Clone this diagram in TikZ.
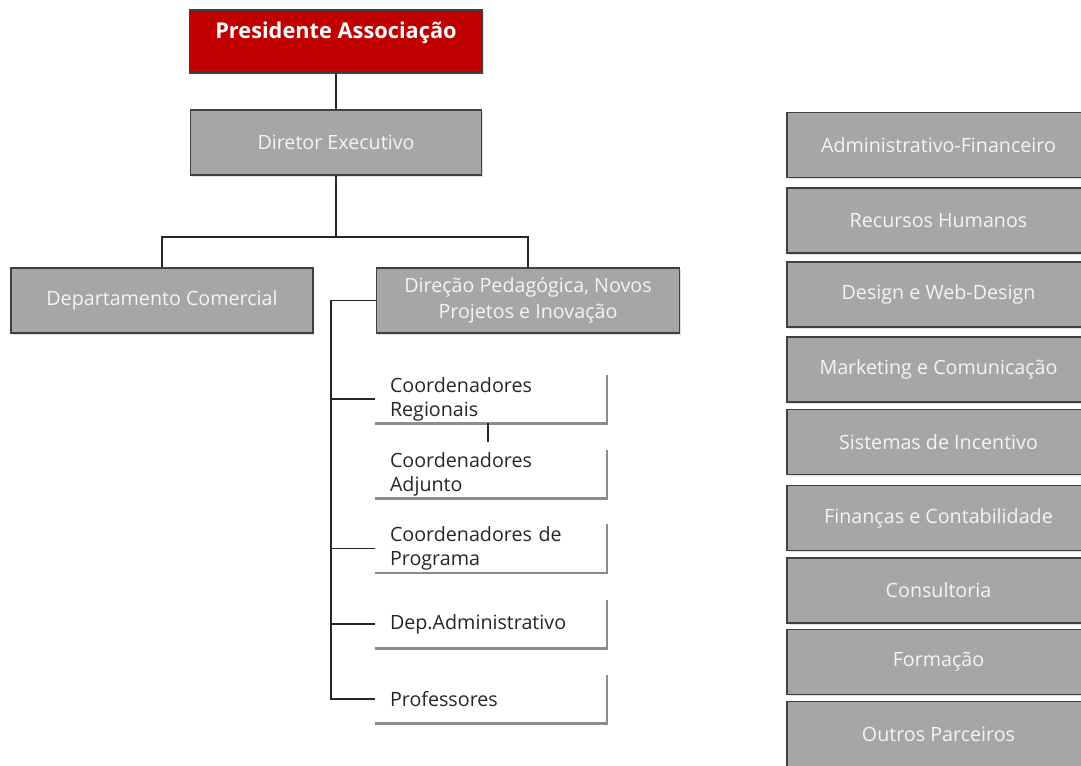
\documentclass[tikz,border=0pt]{standalone}
\usepackage{fontspec}
\setmainfont{Open Sans}
\usetikzlibrary{shadows}
\definecolor{boxgrey}{HTML}{A6A6A6}
\definecolor{boxline}{HTML}{404040}
\definecolor{headred}{HTML}{C00000}
\definecolor{boxtext}{HTML}{F4F4F4}
\definecolor{openline}{HTML}{8C8C8C}
\definecolor{darktext}{HTML}{262626}
\begin{document}
\begin{tikzpicture}[x=0.02cm,y=-0.02cm,
        unitbox/.style={draw=boxline,line width=1pt,fill=boxgrey,text=boxtext,align=center,
            minimum height=1.3cm,inner sep=0pt,font=\fontsize{11.2}{14.5}\selectfont,
            drop shadow={shadow xshift=0.03cm,shadow yshift=-0.03cm,opacity=0.25}},
        headbox/.style={unitbox,fill=headred,text=white,font=\bfseries\fontsize{12.4}{13}\selectfont},
        openbox/.style={text=darktext,align=left,text width=4.04cm,inner xsep=0.3cm,
            minimum height=0.96cm,inner ysep=0pt,font=\fontsize{11.2}{13.6}\selectfont},
        link/.style={line width=1.1pt,draw=black!85}]
    \clip (0,0) rectangle (1081,765);
    %% Top of the chart
    \node[headbox,minimum width=5.86cm,minimum height=1.26cm] (pres) at (336,41.5) {Presidente Associação\\\mbox{}};
    \node[unitbox,minimum width=5.82cm] (dir) at (336,142.5) {Diretor Executivo};
    \node[unitbox,minimum width=6.04cm] (com) at (162,300.5) {Departamento Comercial};
    \node[unitbox,minimum width=6.06cm] (ped) at (528,300.5) {Direção Pedagógica, Novos\\Projetos e Inovação};
    %% Pedagogical branch
    \node[openbox] (reg) at (491,399) {Coordenadores\\Regionais};
    \node[openbox] (adj) at (491,474) {Coordenadores\\Adjunto};
    \node[openbox] (prog) at (491,548.5) {Coordenadores de\\Programa};
    \node[openbox] (adm) at (491,624) {Dep.Administrativo};
    \node[openbox] (prof) at (491,699) {Professores};
    \foreach \b in {reg,adj,prog,adm,prof}
        \draw[draw=openline,line width=1.3pt] (\b.north east) |- (\b.south west);
    %% Areas
    \foreach \n/\t/\y in {af/Administrativo-Financeiro/145,rh/Recursos Humanos/220.5,
            dw/Design e Web-Design/294.5,mc/Marketing e Comunicação/369.5,
            si/Sistemas de Incentivo/442,fc/Finanças e Contabilidade/518,
            co/Consultoria/590.5,fo/Formação/662,op/Outros Parceiros/734}
        \node[unitbox,minimum width=6.06cm] (\n) at (938.5,\y) {\t};
    %% Connectors
    \coordinate (split) at (336,237);
    \coordinate (bus) at (331,0);
    \draw[link] (pres.south) -- (dir.north);
    \draw[link] (dir.south) -- (split);
    \draw[link] (com.north) |- (split) -| (ped.north);
    \draw[link] (ped.west) -| (bus |- prof.west) -- (prof.west);
    \foreach \b in {reg,prog,adm}
        \draw[link] (bus |- \b.west) -- (\b.west);
    \draw[link,shorten >=0.16cm] ([xshift=-0.06cm]reg.south) -- ([xshift=-0.06cm]adj.north);
\end{tikzpicture}
\end{document}
